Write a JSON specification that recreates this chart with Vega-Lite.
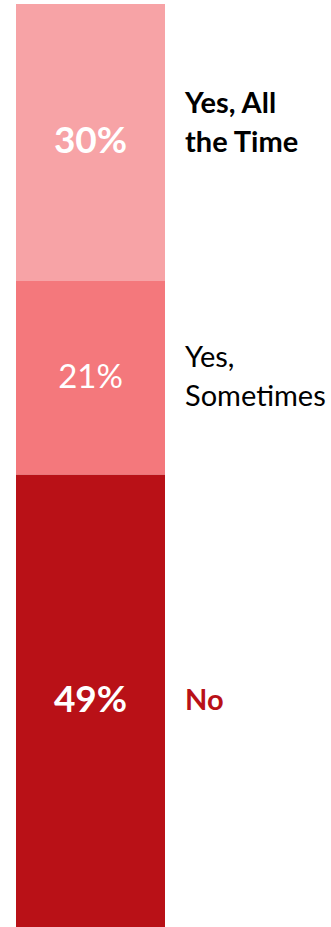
{
  "$schema": "https://vega.github.io/schema/vega-lite/v6.json",
  "width": 149,
  "height": 923,
  "autosize": "none",
  "padding": {"left": 16, "top": 4, "right": 166, "bottom": 0},
  "background": "white",
  "config": {"view": {"stroke": null}, "font": "Lato"},
  "data": {
    "values": [
      {"answer": "Yes, All the Time", "lines": ["Yes, All", "the Time"], "pct": 30, "pctLabel": "30%", "rank": 3},
      {"answer": "Yes, Sometimes", "lines": ["Yes,", "Sometimes"], "pct": 21, "pctLabel": "21%", "rank": 2},
      {"answer": "No", "lines": ["No"], "pct": 49, "pctLabel": "49%", "rank": 1}
    ]
  },
  "encoding": {
    "y": {"field": "pct", "type": "quantitative", "stack": "zero", "scale": {"domain": [0, 100], "nice": false}, "axis": null},
    "order": {"field": "rank", "type": "quantitative"}
  },
  "layer": [
    {
      "mark": {"type": "bar", "width": 149},
      "encoding": {
        "color": {"field": "answer", "type": "nominal", "legend": null,
          "scale": {"domain": ["Yes, All the Time", "Yes, Sometimes", "No"], "range": ["#F7A3A6", "#F4787C", "#B91117"]}}
      }
    },
    {
      "mark": {"type": "text", "fontSize": 37, "fontWeight": "bold", "color": "white", "baseline": "middle", "align": "center"},
      "encoding": {
        "y": {"field": "pct", "type": "quantitative", "stack": "zero", "bandPosition": 0.5},
        "text": {"condition": {"test": "datum.rank != 2", "field": "pctLabel"}, "value": ""}
      }
    },
    {
      "mark": {"type": "text", "fontSize": 33, "fontWeight": "normal", "color": "white", "baseline": "middle", "align": "center"},
      "encoding": {
        "y": {"field": "pct", "type": "quantitative", "stack": "zero", "bandPosition": 0.5},
        "text": {"condition": {"test": "datum.rank == 2", "field": "pctLabel"}, "value": ""}
      }
    },
    {
      "mark": {"type": "text", "fontSize": 29, "fontWeight": "bold", "color": "black", "baseline": "middle", "align": "left", "dx": 94.5, "dy": -38, "lineHeight": 39},
      "encoding": {
        "y": {"field": "pct", "type": "quantitative", "stack": "zero", "bandPosition": 0.5},
        "text": {"condition": {"test": "datum.rank == 3", "field": "lines"}, "value": ""}
      }
    },
    {
      "mark": {"type": "text", "fontSize": 29, "fontWeight": "normal", "color": "black", "baseline": "middle", "align": "left", "dx": 94.5, "dy": -20, "lineHeight": 39},
      "encoding": {
        "y": {"field": "pct", "type": "quantitative", "stack": "zero", "bandPosition": 0.5},
        "text": {"condition": {"test": "datum.rank == 2", "field": "lines"}, "value": ""}
      }
    },
    {
      "mark": {"type": "text", "fontSize": 29, "fontWeight": "bold", "color": "#B91117", "baseline": "middle", "align": "left", "dx": 94.5},
      "encoding": {
        "y": {"field": "pct", "type": "quantitative", "stack": "zero", "bandPosition": 0.5},
        "text": {"condition": {"test": "datum.rank == 1", "field": "lines"}, "value": ""}
      }
    }
  ]
}
